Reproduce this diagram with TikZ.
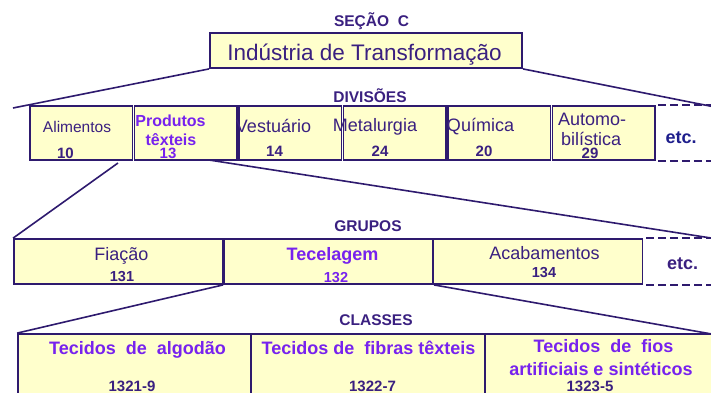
\documentclass[tikz,border=0pt]{standalone}
\usepackage{fontspec}
\setmainfont{Liberation Sans}
\usepackage{xcolor}
\definecolor{fundo}{HTML}{FFFFCC}
\definecolor{borda}{HTML}{2E1A6E}
\definecolor{texto}{HTML}{3A2080}
\definecolor{destaque}{HTML}{7722EE}
\definecolor{etcazul}{HTML}{1E1E8C}
\newcommand{\fs}[1]{\fontsize{#1}{#1}\selectfont}

\begin{document}
\begin{tikzpicture}[x=1pt,y=-1pt,
	caixa/.style={draw=borda,fill=fundo,line width=1.8pt,inner sep=0pt},
	linha/.style={draw=borda,line width=1.6pt},
	tracejado/.style={draw=borda,line width=2.3pt,dash pattern=on 8pt off 4pt},
	txt/.style={anchor=base,inner sep=0pt,text=texto},
	titulo/.style={txt,font=\bfseries\fs{15.5}},
	num/.style={txt,font=\bfseries\fs{15}}]
	\useasboundingbox (0,0) rectangle (711,392);
	\clip (0,0) rectangle (711,392);
	% secao
	\node[titulo] (tit secao) at (371.5,26) {SEÇÃO~~C};
	\node[caixa,minimum width=312pt,minimum height=35pt] (secao) at (366,50.5) {};
	\node[txt,font=\fs{22.5}] (nome secao) at (364.5,60) {Indústria de Transformação};
	% divisoes
	\node[titulo] (tit div) at (370,102) {DIVISÕES};
	\node[caixa,minimum width=102.5pt,minimum height=54pt] (alimentos) at (81.25,133) {};
	\node[caixa,minimum width=102.5pt,minimum height=54pt] (texteis) at (185.75,133) {};
	\node[caixa,minimum width=102.5pt,minimum height=54pt] (vestuario) at (290.25,133) {};
	\node[caixa,minimum width=102.5pt,minimum height=54pt] (metalurgia) at (394.75,133) {};
	\node[caixa,minimum width=102.5pt,minimum height=54pt] (quimica) at (499.25,133) {};
	\node[caixa,minimum width=102.5pt,minimum height=54pt] (automob) at (603.75,133) {};
	\draw[tracejado] ([xshift=2pt]automob.north east) -- +(70,0);
	\draw[tracejado] ([xshift=2pt]automob.south east) -- +(70,0);
	\node[txt,font=\fs{15.5}] (alimentos txt) at (77,132) {Alimentos};
	\node[num] (alimentos num) at (65.5,158) {10};
	\node[txt,text=destaque,font=\bfseries\fs{16}] (texteis txt1) at (170.5,126) {Produtos};
	\node[txt,text=destaque,font=\bfseries\fs{16}] (texteis txt2) at (171,145) {têxteis};
	\node[num,text=destaque] (texteis num) at (168,158) {13};
	\node[txt,font=\fs{18}] (vestuario txt) at (273.5,132) {Vestuário};
	\node[num] (vestuario num) at (274.5,156.5) {14};
	\node[txt,font=\fs{18}] (metalurgia txt) at (375,131) {Metalurgia};
	\node[num] (metalurgia num) at (380,156) {24};
	\node[txt,font=\fs{18}] (quimica txt) at (480.5,131.5) {Química};
	\node[num] (quimica num) at (484,156) {20};
	\node[txt,font=\fs{18},anchor=base west] (automob txt1) at (558,125) {Automo-};
	\node[txt,font=\fs{18},anchor=base west] (automob txt2) at (561,145) {bilística};
	\node[num] (automob num) at (590,158) {29};
	\node[txt,text=etcazul,font=\bfseries\fs{18}] (etc div) at (681,143) {etc.};
	% grupos
	\node[titulo] (tit grp) at (368,231.5) {GRUPOS};
	\node[caixa,minimum width=209pt,minimum height=45pt] (fiacao) at (118.5,261.5) {};
	\node[caixa,minimum width=209pt,minimum height=45pt] (tecelagem) at (328.5,261.5) {};
	\node[caixa,minimum width=209pt,minimum height=45pt] (acabamentos) at (538,261.5) {};
	\draw[tracejado] ([xshift=3pt]acabamentos.north east) -- +(75,0);
	\draw[tracejado] ([xshift=3pt]acabamentos.south east) -- +(75,0);
	\node[txt,font=\fs{18}] (fiacao txt) at (121.5,260) {Fiação};
	\node[num,font=\bfseries\fs{14.5}] (fiacao num) at (122,281.5) {131};
	\node[txt,text=destaque,font=\bfseries\fs{18}] (tecelagem txt) at (332.5,260) {Tecelagem};
	\node[num,text=destaque,font=\bfseries\fs{14.5}] (tecelagem num) at (336,282) {132};
	\node[txt,font=\fs{18}] (acabamentos txt) at (544.5,259.5) {Acabamentos};
	\node[num,font=\bfseries\fs{14.5}] (acabamentos num) at (544,277.5) {134};
	\node[txt,font=\bfseries\fs{18}] (etc grp) at (682.5,269.5) {etc.};
	% classes
	\node[titulo] (tit cls) at (376,325) {CLASSES};
	\node[caixa,minimum width=233pt,minimum height=66pt] (algodao) at (134.5,367) {};
	\node[caixa,minimum width=233pt,minimum height=66pt] (fibras) at (368,367) {};
	\node[caixa,minimum width=233pt,minimum height=66pt] (fios) at (602,367) {};
	\node[txt,text=destaque,font=\bfseries\fs{18}] (algodao txt) at (137.5,354.5) {Tecidos~~de~~algodão};
	\node[num] (algodao num) at (132,391) {1321-9};
	\node[txt,text=destaque,font=\bfseries\fs{18}] (fibras txt) at (368.5,354) {Tecidos de~~fibras têxteis};
	\node[num] (fibras num) at (372.5,391) {1322-7};
	\node[txt,text=destaque,font=\bfseries\fs{18}] (fios txt1) at (603.5,352.5) {Tecidos~~de~~fios};
	\node[txt,text=destaque,font=\bfseries\fs{18}] (fios txt2) at (601,375) {artificiais e sintéticos};
	\node[num] (fios num) at (590,391) {1323-5};
	% ligacoes
	\coordinate (sc esq) at (13,108);
	\coordinate (sc dir) at (740,112);
	\coordinate (div esq) at (118,163);
	\coordinate (div dir) at (209,160);
	\coordinate (grp dir) at (740,242.5);
	\coordinate (cls dir) at (740,339);
	\draw[linha] (secao.south west) -- (sc esq);
	\draw[linha] (secao.south east) -- (sc dir);
	\draw[linha] (div esq) -- (fiacao.north west);
	\draw[linha] (div dir) -- (grp dir);
	\draw[linha] (tecelagem.south west) -- (algodao.north west);
	\draw[linha] (tecelagem.south east) -- (cls dir);
\end{tikzpicture}
\end{document}
